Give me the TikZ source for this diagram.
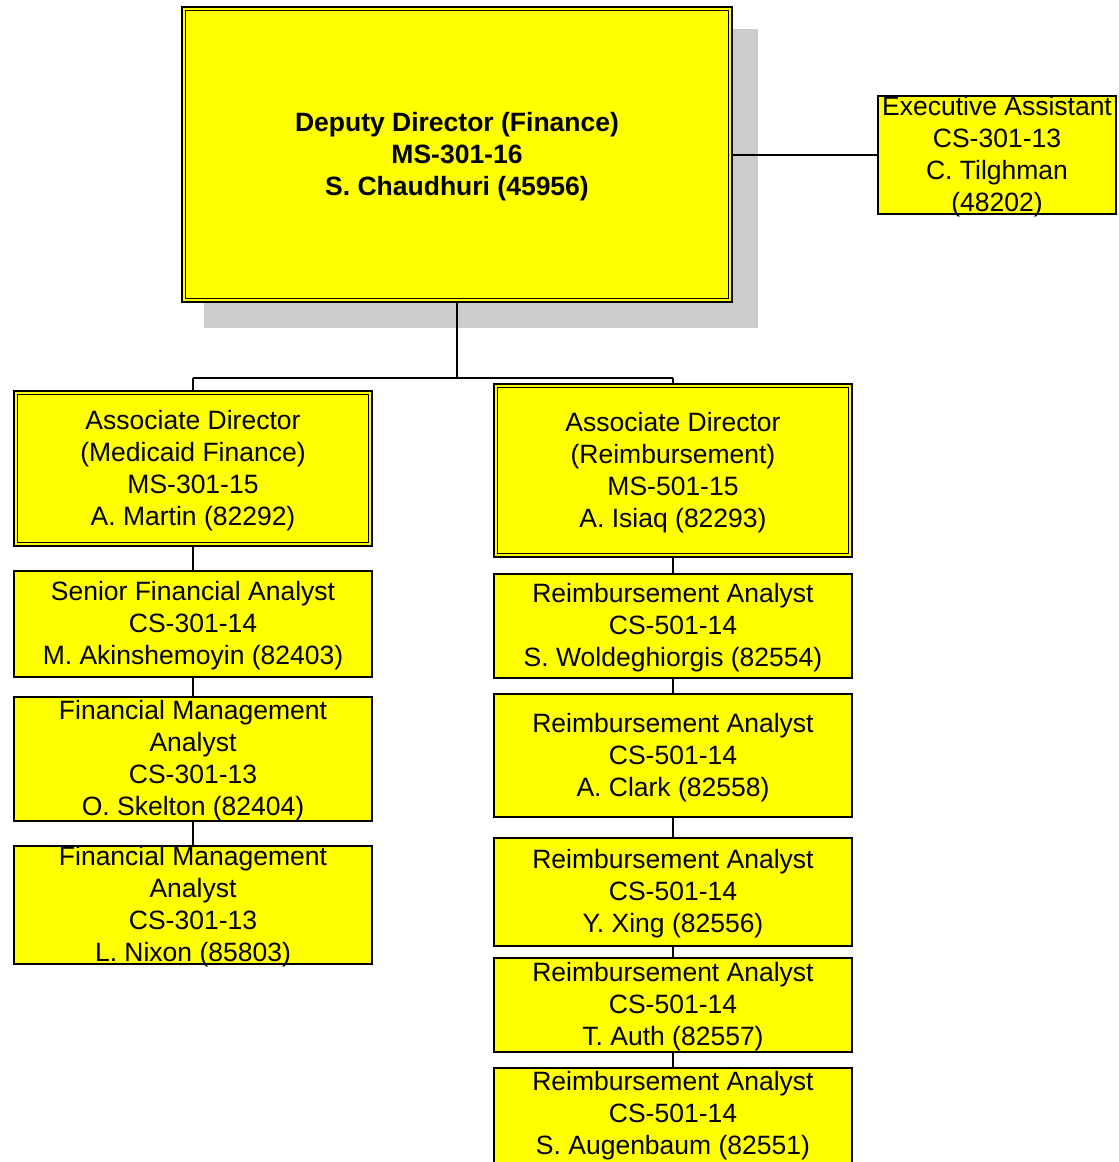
\documentclass[tikz,border=0pt]{standalone}
\usepackage{fontspec}
\setmainfont{Liberation Sans}
\definecolor{boxyellow}{RGB}{255,255,0}
\definecolor{shadowgray}{RGB}{204,204,204}
\begin{document}
\begin{tikzpicture}[x=1pt,y=-1pt]
\useasboundingbox (0,0) rectangle (1119,1162);
\tikzset{
  box/.style={draw=black, line width=2pt, fill=boxyellow, inner sep=0pt, minimum width=358pt},
  dbox/.style={draw=black, line width=1.7pt, double=boxyellow, double distance=1.9pt, fill=boxyellow, inner sep=0pt},
  txt/.style={align=center, inner sep=0pt, yshift=-2pt, font=\fontsize{26.5}{32}\selectfont},
  btxt/.style={txt, font=\fontsize{26.5}{32}\selectfont\bfseries},
  conn/.style={line width=1.9pt},
  shadowbox/.style={fill=shadowgray, draw=none},
}
% shadow of the top box
\fill[shadowbox] (204,29) rectangle (758,328);

% boxes
\node[dbox, minimum width=546.8pt, minimum height=291.8pt] (top) at (457,154.5) {};
\node[box, minimum width=238pt, minimum height=118pt] (exec) at (997,155) {};

\node[dbox, minimum width=354.8pt, minimum height=151.8pt] (adm) at (193,468.5) {};
\node[box, minimum height=106pt] (sfa) at (193,624) {};
\node[box, minimum height=124pt] (fma1) at (193,759) {};
\node[box, minimum height=118pt] (fma2) at (193,905) {};

\node[dbox, minimum width=354.8pt, minimum height=169.8pt] (adr) at (673,470.5) {};
\node[box, minimum height=104pt] (ra1) at (673,626) {};
\node[box, minimum height=123pt] (ra2) at (673,755.5) {};
\node[box, minimum height=108pt] (ra3) at (673,892) {};
\node[box, minimum height=94pt] (ra4) at (673,1005) {};
\node[box, minimum height=102pt] (ra5) at (673,1119) {};

% texts
\node[btxt] (top-t) at (top.center) {Deputy Director (Finance)\\MS-301-16\\S. Chaudhuri (45956)};
\node[txt] (exec-t) at (exec.center) {Executive Assistant\\CS-301-13\\C. Tilghman\\(48202)};
\node[txt] (adm-t) at (adm.center) {Associate Director\\(Medicaid Finance)\\MS-301-15\\A. Martin (82292)};
\node[txt] (sfa-t) at (sfa.center) {Senior Financial Analyst\\CS-301-14\\M. Akinshemoyin (82403)};
\node[txt] (fma1-t) at (fma1.center) {Financial Management\\Analyst\\CS-301-13\\O. Skelton (82404)};
\node[txt] (fma2-t) at (fma2.center) {Financial Management\\Analyst\\CS-301-13\\L. Nixon (85803)};
\node[txt] (adr-t) at (adr.center) {Associate Director\\(Reimbursement)\\MS-501-15\\A. Isiaq (82293)};
\node[txt] (ra1-t) at (ra1.center) {Reimbursement Analyst\\CS-501-14\\S. Woldeghiorgis (82554)};
\node[txt] (ra2-t) at (ra2.center) {Reimbursement Analyst\\CS-501-14\\A. Clark (82558)};
\node[txt] (ra3-t) at (ra3.center) {Reimbursement Analyst\\CS-501-14\\Y. Xing (82556)};
\node[txt] (ra4-t) at (ra4.center) {Reimbursement Analyst\\CS-501-14\\T. Auth (82557)};
\node[txt] (ra5-t) at (673,1114) {Reimbursement Analyst\\CS-501-14\\S. Augenbaum (82551)};

% connectors
\coordinate (j) at (457,378);
\draw[conn] (top.south) -- (j);
\draw[conn] (adm.north |- j) -- (adr.north |- j);
\draw[conn] (adm.north |- j) -- (adm.north);
\draw[conn] (adr.north |- j) -- (adr.north);
\draw[conn] (exec.west) -- (exec.west -| top.east);

\draw[conn] (adm.south) -- (sfa.north);
\draw[conn] (sfa.south) -- (fma1.north);
\draw[conn] (fma1.south) -- (fma2.north);

\draw[conn] (adr.south) -- (ra1.north);
\draw[conn] (ra1.south) -- (ra2.north);
\draw[conn] (ra2.south) -- (ra3.north);
\draw[conn] (ra3.south) -- (ra4.north);
\draw[conn] (ra4.south) -- (ra5.north);
\end{tikzpicture}
\end{document}
